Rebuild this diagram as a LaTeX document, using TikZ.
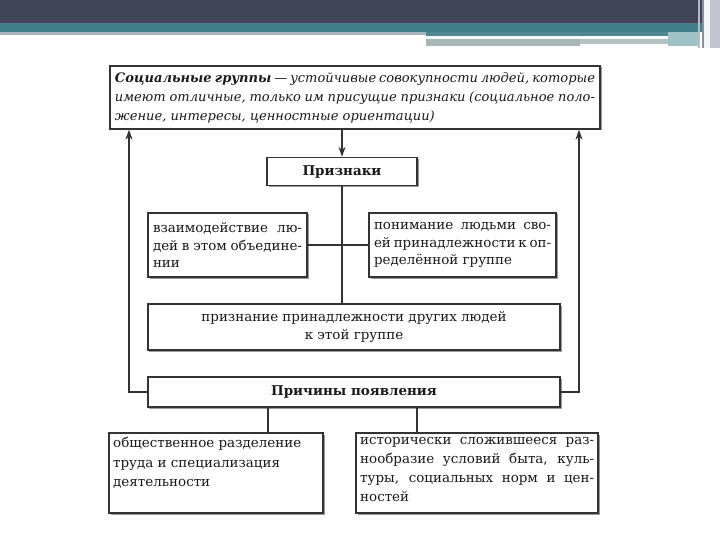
\documentclass[tikz,border=0pt]{standalone}
\usepackage{fontspec}
\setmainfont{DejaVu Serif}
\usetikzlibrary{arrows.meta,shadows}
\definecolor{hdark}{HTML}{3F4556}
\definecolor{hpurp}{HTML}{47425A}
\definecolor{hteal}{HTML}{437F88}
\definecolor{hteal2}{HTML}{4F8890}
\definecolor{hgrey}{HTML}{A6B6BC}
\definecolor{hgrey2}{HTML}{A8B6B6}
\definecolor{hgrey3}{HTML}{B4C2C2}
\definecolor{hlight}{HTML}{9EC2C6}
\definecolor{hlav}{HTML}{C4C4D0}
\definecolor{hline1}{HTML}{B8BCC8}
\definecolor{hline2}{HTML}{8890A0}
\definecolor{linec}{HTML}{333333}
\definecolor{txtc}{HTML}{1A1A1A}
\definecolor{shc}{HTML}{9A9A9A}
\begin{document}
\begin{tikzpicture}[x=1bp,y=-1bp,
  box/.style={draw=linec, line width=1.3bp, fill=white, rectangle, inner sep=0pt, text=txtc,
    drop shadow={shadow xshift=1.5bp,shadow yshift=-1.5bp,fill=shc,opacity=1}},
  txt/.style={inner sep=0pt, text=txtc, align=left, anchor=north west},
  conn/.style={draw=linec, line width=1.2bp},
  arr/.style={conn, -{Stealth[length=10bp,width=7bp]}}]
\useasboundingbox (0,0) rectangle (720,540);
\fill[white] (0,0) rectangle (720,540);
% header
\fill[hdark] (0,0) rectangle (720,19);
\fill[hpurp] (0,19) rectangle (720,23);
\fill[hteal] (0,23) rectangle (720,32);
\fill[hgrey] (0,32) rectangle (426,35);
\fill[hteal2] (426,32) rectangle (698,36);
\fill[white!94!hteal] (426,36) rectangle (668,39);
\fill[hgrey2] (426,39) rectangle (580,46);
\fill[hgrey3] (580,39) rectangle (668,44);
\fill[hlight] (668,32) rectangle (698,46);
\fill[hline1] (698,0) rectangle (700,48);
\fill[hline2] (702,0) rectangle (704,48);
\fill[white!85!hlav] (704,0) rectangle (710,48);
\fill[hlav] (710,0) rectangle (720,48);

% boxes
\node[box, minimum width=490bp, minimum height=63bp, align=left,
  font=\fontsize{13.1}{19}\selectfont\itshape] (def) at (355,97.5)
  {\makebox[480bp][s]{\textbf{Социальные группы} — устойчивые совокупности людей, которые}\\
   \makebox[480bp][s]{имеют отличные, только им присущие признаки (социальное поло-}\\
   жение, интересы, ценностные ориентации)};

\node[box, minimum width=150bp, minimum height=28bp,
  font=\fontsize{13.5}{16}\selectfont\bfseries] (pr) at (342,171.5) {Признаки};

\node[box, minimum width=159bp, minimum height=64bp, align=left,
  font=\fontsize{13.5}{17.5}\selectfont] (lb) at (227.5,245)
  {\makebox[149bp][s]{взаимодействие лю-}\\
   \makebox[149bp][s]{дей в этом объедине-}\\
   нии};

\node[box, minimum width=187bp, minimum height=64bp, align=left,
  font=\fontsize{13.5}{17.5}\selectfont] (rb) at (462.5,245)
  {\makebox[177bp][s]{понимание людьми сво-}\\
   \makebox[177bp][s]{ей принадлежности к оп-}\\
   ределённой группе};

\node[box, minimum width=412bp, minimum height=46bp, align=center,
  font=\fontsize{13.5}{18}\selectfont] (rec) at (354,327)
  {признание принадлежности других людей\\ к этой группе};

\node[box, minimum width=412bp, minimum height=30bp,
  font=\fontsize{13.5}{16}\selectfont\bfseries] (cause) at (354,392) {Причины появления};

\node[box, minimum width=214bp, minimum height=80bp] (bl) at (216,473) {};
\node[box, minimum width=242bp, minimum height=80bp] (br) at (477,473) {};

\node[txt, font=\fontsize{13.5}{19.5}\selectfont] (blt) at (113,437)
  {общественное разделение\\
   труда и специализация\\
   деятельности};
\node[txt, font=\fontsize{13.5}{19}\selectfont] (brt) at (360,437)
  {\makebox[234bp][s]{исторически сложившееся раз-}\\
   \makebox[234bp][s]{нообразие условий быта, куль-}\\
   \makebox[234bp][s]{туры, социальных норм и цен-}\\
   ностей};

% connectors
\coordinate (la) at (129,0);
\coordinate (ra) at (579,0);
\coordinate (k1) at (268,0);
\coordinate (k2) at (417,0);
\draw[arr] (def.south -| pr.north) -- (pr.north);
\draw[conn] (pr.south) -- (rec.north -| pr.south);
\draw[conn] (lb.east) -- (rb.west);
\draw[arr] (cause.west) -- (cause.west -| la) -- (def.south -| la);
\draw[arr] (cause.east) -- (cause.east -| ra) -- (def.south -| ra);
\draw[conn] (cause.south -| k1) -- (bl.north -| k1);
\draw[conn] (cause.south -| k2) -- (br.north -| k2);
\end{tikzpicture}
\end{document}
